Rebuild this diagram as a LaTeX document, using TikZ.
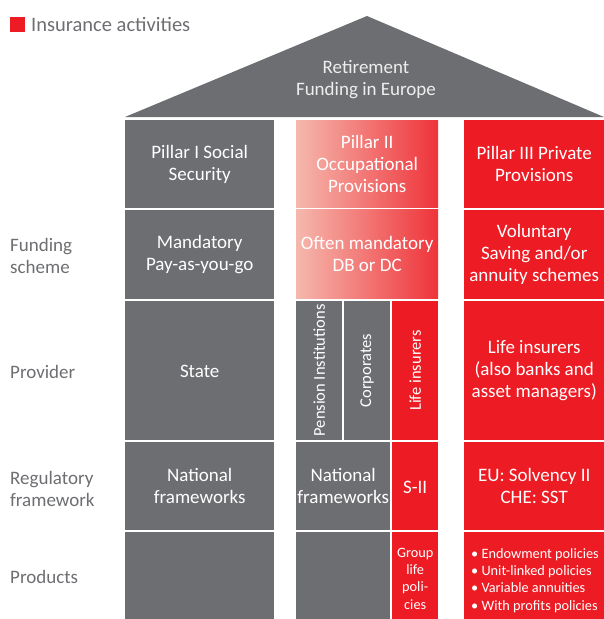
\documentclass[tikz,border=0pt]{standalone}
\usepackage{fontspec}
\setmainfont{Carlito}
\definecolor{pillargrey}{HTML}{6D6E71}
\definecolor{pillarred}{HTML}{ED1C24}
\definecolor{pillarpink}{HTML}{F5B8AD}
\definecolor{rooftext}{HTML}{EEEEEE}
\tikzset{
  cell/.style={anchor=north west,inner sep=0pt,text=white,align=center,
    font=\fontsize{19}{22}\selectfont,execute at begin node={\rule{0pt}{14pt}}},
  greycell/.style={cell,fill=pillargrey},
  redcell/.style={cell,fill=pillarred},
  pinkcell/.style={cell,left color=pillarpink,right color=pillarred!90!white},
  rowlabel/.style={anchor=west,align=left,inner sep=0pt,text=pillargrey,
    font=\fontsize{19}{22}\selectfont},
  uptext/.style={text=white,rotate=90,font=\fontsize{16.5}{22}\selectfont},
  small/.style={font=\fontsize{14.3}{17.3}\selectfont}
}
\begin{document}
\begin{tikzpicture}[x=1pt,y=-1pt]
  \useasboundingbox (0,0) rectangle (604,619);
  % legend
  \fill[pillarred] (10,17) rectangle (25,32);
  \node[rowlabel,font=\fontsize{20.5}{22}\selectfont] (legend) at (31,24.5) {Insurance activities};

  % roof
  \fill[pillargrey] (125,117) -- (367,16) -- (604,117) -- cycle;
  \node[text=rooftext,align=center,font=\fontsize{19}{22}\selectfont] (roof) at (366,80) {Retirement\\Funding in Europe};

  % pillar I
  \node[greycell,minimum width=149pt,minimum height=87.5pt] (p1) at (125,120) {Pillar I Social\\Security};
  \node[greycell,minimum width=149pt,minimum height=89pt] (fund1) at (125,209.5) {Mandatory\\Pay-as-you-go};
  \node[greycell,minimum width=149pt,minimum height=139.5pt] (prov1) at (125,300.5) {State};
  \node[greycell,minimum width=149pt,minimum height=88pt] (reg1) at (125,442) {National\\frameworks};
  \node[greycell,minimum width=149pt,minimum height=87pt] (prod1) at (125,532) {};

  % pillar II
  \node[pinkcell,minimum width=142pt,minimum height=87.5pt] (p2) at (296,120) {Pillar II\\Occupational\\Provisions};
  \node[pinkcell,minimum width=142pt,minimum height=89pt] (fund2) at (296,209.5) {Often mandatory\\DB or DC};
  \node[greycell,minimum width=46pt,minimum height=139.5pt] (pension) at (296,300.5) {};
  \node[greycell,minimum width=46pt,minimum height=139.5pt] (corp) at (344,300.5) {};
  \node[redcell,minimum width=46pt,minimum height=139.5pt] (life2) at (392,300.5) {};
  \node[uptext] (pensiontxt) at (pension.center) {Pension Institutions};
  \node[uptext] (corptxt) at (corp.center) {Corporates};
  \node[uptext] (life2txt) at (life2.center) {Life insurers};
  \node[greycell,minimum width=94pt,minimum height=88pt] (reg2) at (296,442) {National\\frameworks};
  \node[redcell,minimum width=46pt,minimum height=88pt] (solv2) at (392,442) {S-II};
  \node[greycell,minimum width=94pt,minimum height=87pt] (prod2) at (296,532) {};
  \node[redcell,minimum width=46pt,minimum height=87pt] (group) at (392,532) {};
  \node[text=white,align=center,small,inner sep=0pt] (grouptxt) at ([yshift=-3pt]group.center) {Group\\life\\poli-\\cies};

  % pillar III
  \node[redcell,minimum width=140pt,minimum height=87.5pt] (p3) at (464,120) {Pillar III Private\\Provisions};
  \node[redcell,minimum width=140pt,minimum height=89pt] (fund3) at (464,209.5) {Voluntary\\Saving and/or\\annuity schemes};
  \node[redcell,minimum width=140pt,minimum height=139.5pt] (prov3) at (464,300.5) {Life insurers\\(also banks and\\asset managers)};
  \node[redcell,minimum width=140pt,minimum height=88pt] (reg3) at (464,442) {EU: Solvency II\\CHE: SST};
  \node[redcell,minimum width=140pt,minimum height=87pt] (prod3) at (464,532) {};
  \node[anchor=west,align=left,text=white,small,inner sep=0pt] (bullets) at (471,580.5) {• Endowment policies\\• Unit-linked policies\\• Variable annuities\\• With profits policies};

  % row labels
  \node[rowlabel] (lfund) at (10,256) {Funding\\scheme};
  \node[rowlabel] (lprov) at (10,372) {Provider};
  \node[rowlabel] (lreg) at (10,489) {Regulatory\\framework};
  \node[rowlabel] (lprod) at (10,577) {Products};
\end{tikzpicture}
\end{document}
